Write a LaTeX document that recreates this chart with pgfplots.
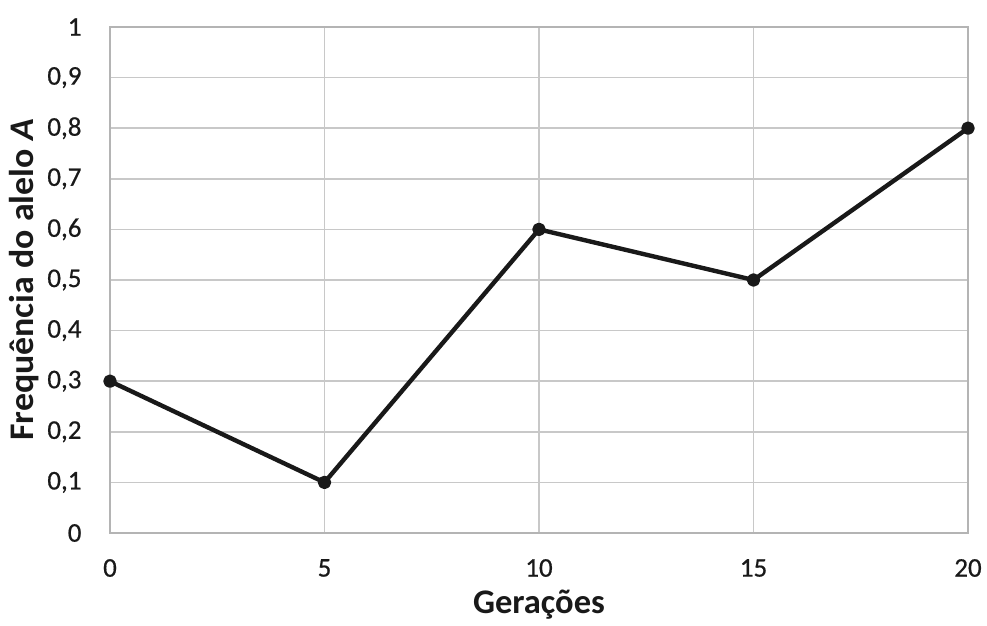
\documentclass[border=0pt]{standalone}
\usepackage{pgfplots}
\pgfplotsset{compat=1.18}
\usepackage{fontspec}
\setmainfont{Carlito}
\newfontfamily\tickfont[FakeBold=0.6]{Carlito}
\definecolor{gridc}{RGB}{200,200,200}
\definecolor{tickc}{RGB}{25,25,25}
\begin{document}
\begin{tikzpicture}
\path[use as bounding box] (-110pt,-92pt) rectangle (877pt,533pt);
\begin{axis}[
  at={(0,0)}, anchor=south west,
  scale only axis,
  width=858pt, height=506pt,
  xmin=0, xmax=20, ymin=0, ymax=1,
  xtick={0,5,10,15,20},
  ytick={0,0.1,...,1.01},
  grid=major,
  major grid style={gridc, line width=1.5pt},
  axis line style={gridc!90!black, line width=1.8pt},
  tick style={draw=none},
  /pgf/number format/assume math mode=true,
  /pgf/number format/use comma,
  yticklabel={\pgfmathprintnumber[fixed,precision=1,use comma]{\tick}},
  ticklabel style={font=\tickfont\fontsize{27}{31}\selectfont, text=tickc},
  xticklabel style={anchor=center, yshift=-35pt},
  yticklabel style={anchor=east, xshift=-25pt},
  xlabel={\textbf{Gerações}},
  ylabel={\scalebox{1.04}[1]{\textbf{Frequência do alelo \textit{A}}}},
  label style={font=\fontsize{34.5}{38}\selectfont, text=tickc},
  xlabel style={at={(axis description cs:0.5,-0.16)}, anchor=base},
  ylabel style={at={(axis description cs:-0.1002,0.5)}, anchor=center},
  clip=false,
]
\addplot[black!90, line width=4.4pt, mark=*, mark size=4.5pt, line join=round] coordinates {
(0,0.3) (5,0.1) (10,0.6) (15,0.5) (20,0.8)
};
\end{axis}
\end{tikzpicture}
\end{document}
